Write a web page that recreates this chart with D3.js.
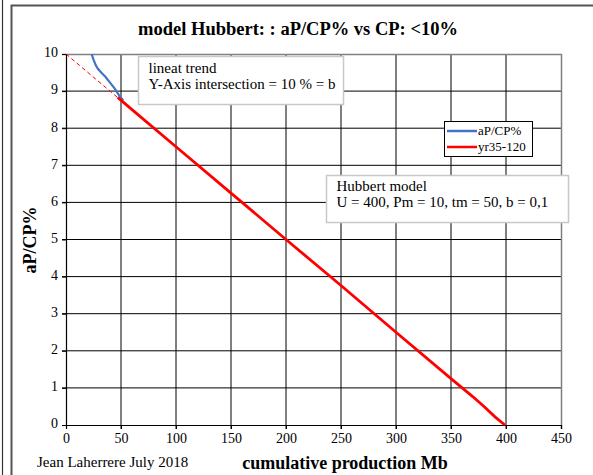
<!DOCTYPE html>
<html lang="en">
<head>
<meta charset="UTF-8" />
<title>model Hubbert</title>
<style>
  * { margin: 0; padding: 0; }
  body { background: #fff; width: 593px; height: 475px; overflow: hidden; }
  svg text { font-family: 'Liberation Serif', 'Times New Roman', serif; fill: #000; }
</style>
</head>
<body>
<svg id="chart" width="593" height="475"></svg>
<script src="https://cdn.jsdelivr.net/npm/d3@7"></script>
<script>
// data
const xTicks = [0, 50, 100, 150, 200, 250, 300, 350, 400, 450];
const yTicks = [0, 1, 2, 3, 4, 5, 6, 7, 8, 9, 10];
// aP/CP% (blue)
const blueCP = [23.3, 25, 27, 29, 32, 36, 40, 44, 48, 52];
const blueVal = [10, 9.85, 9.7, 9.6, 9.5, 9.38, 9.23, 9.08, 8.9, 8.75];
// yr35-120 (red)
const redCP = [47, 60, 100, 150, 200, 250, 300, 350, 370, 380, 390, 399];
const redVal = [8.83, 8.5, 7.5, 6.25, 5.0, 3.76, 2.5, 1.25, 0.76, 0.5, 0.22, 0];
// linear trend (dashed)
const trendCP = [0, 48];
const trendVal = [10, 8.8];

const FONT = "'Liberation Serif', 'Times New Roman', serif";
const svg = d3.select('#chart');
const pLeft = 66, pRight = 561, pTop = 54, pBottom = 425;

const x = d3.scaleLinear().domain([0, 450]).range([pLeft, pRight]);
const y = d3.scaleLinear().domain([0, 10]).range([pBottom, pTop]);

// outer frame
svg.append('line').attr('x1', 2.5).attr('x2', 2.5).attr('y1', 0).attr('y2', 475)
  .attr('stroke', '#333').attr('stroke-width', 1.2);
svg.append('path').attr('d', 'M11.5,475 V5.5 H593')
  .attr('fill', 'none').attr('stroke', '#555').attr('stroke-width', 2);

// grid
svg.append('g').selectAll('line').data(xTicks.slice(1, -1)).join('line')
  .attr('x1', d => x(d)).attr('x2', d => x(d)).attr('y1', pTop).attr('y2', pBottom + 4)
  .attr('stroke', '#000').attr('stroke-width', 1);
svg.append('g').selectAll('line').data(yTicks.slice(1, -1)).join('line')
  .attr('x1', pLeft - 4).attr('x2', pRight).attr('y1', d => y(d)).attr('y2', d => y(d))
  .attr('stroke', '#000').attr('stroke-width', 1);
// plot border
svg.append('path').attr('d', `M${pLeft - 4},${pTop + 0.5} H${pRight + 0.5} V${pBottom + 4}`)
  .attr('fill', 'none').attr('stroke', '#808080').attr('stroke-width', 1.5);

// axes
const xAxis = svg.append('g').attr('transform', `translate(0,${pBottom})`)
  .call(d3.axisBottom(x).tickValues(xTicks).tickSize(4).tickFormat(d3.format('d')));
const yAxis = svg.append('g').attr('transform', `translate(${pLeft},0)`)
  .call(d3.axisLeft(y).tickValues(yTicks).tickSize(4).tickFormat(d3.format('d')));
[xAxis, yAxis].forEach(a => {
  a.attr('font-family', null).attr('font-size', null);
  a.select('.domain').attr('stroke', '#000').attr('stroke-width', 1.2);
  a.selectAll('.tick line').attr('stroke', '#000');
  a.selectAll('text').style('font-family', FONT).style('font-size', '14px').attr('fill', '#000');
});
xAxis.selectAll('text').attr('y', 6).attr('dy', '0.85em');
yAxis.selectAll('text').attr('x', -8).attr('dy', '0.2em');

const line = d3.line().x(d => x(d[0])).y(d => y(d[1]));

// lineat trend dashed
svg.append('path').datum(d3.zip(trendCP, trendVal)).attr('d', line)
  .attr('fill', 'none').attr('stroke', '#ff0000').attr('stroke-width', 1)
  .attr('stroke-dasharray', '4,3');
// blue
svg.append('path').datum(d3.zip(blueCP, blueVal)).attr('d', line)
  .attr('fill', 'none').attr('stroke', '#4472c4').attr('stroke-width', 2.2);
// red
svg.append('path').datum(d3.zip(redCP, redVal)).attr('d', line)
  .attr('fill', 'none').attr('stroke', '#ff0000').attr('stroke-width', 2.8);

// text boxes
function box(x0, y0, w, h, lines, ty) {
  svg.append('rect').attr('x', x0).attr('y', y0).attr('width', w).attr('height', h)
    .attr('fill', '#fff').attr('stroke', '#c8c8c8').attr('stroke-width', 1.5);
  lines.forEach((t, i) => {
    svg.append('text').attr('x', x0 + 10).attr('y', y0 + ty + i * 16)
      .style('font-size', '15px').text(t);
  });
}
box(138.5, 56.5, 205, 48, ['lineat trend', 'Y-Axis intersection = 10 % = b'], 16);
box(326.5, 175.5, 242, 47, ['Hubbert model', 'U = 400, Pm = 10, tm = 50, b = 0,1'], 15);

// legend
const lg = svg.append('g');
lg.append('rect').attr('x', 444.5).attr('y', 121.5).attr('width', 88).attr('height', 35)
  .attr('fill', '#fff').attr('stroke', '#000').attr('stroke-width', 1);
const legendItems = [['aP/CP%', '#4472c4'], ['yr35-120', '#ff0000']];
legendItems.forEach((d, i) => {
  const yy = 131 + i * 16;
  lg.append('line').attr('x1', 447).attr('x2', 477).attr('y1', yy).attr('y2', yy)
    .attr('stroke', d[1]).attr('stroke-width', 2.5);
  lg.append('text').attr('x', 478).attr('y', yy + 4).style('font-size', '13px').text(d[0]);
});

// titles
svg.append('text').attr('x', 298).attr('y', 35).attr('text-anchor', 'middle')
  .style('font-size', '18.5px').attr('font-weight', 'bold').text('model Hubbert: : aP/CP% vs CP: <10%');
svg.append('text').attr('transform', 'translate(36,240) rotate(-90)').attr('text-anchor', 'middle')
  .style('font-size', '18px').attr('font-weight', 'bold').text('aP/CP%');
svg.append('text').attr('x', 345).attr('y', 469).attr('text-anchor', 'middle')
  .style('font-size', '18px').attr('font-weight', 'bold').text('cumulative production Mb');
svg.append('text').attr('x', 37).attr('y', 467)
  .style('font-size', '15px').text('Jean Laherrere July 2018');
</script>
</body>
</html>
